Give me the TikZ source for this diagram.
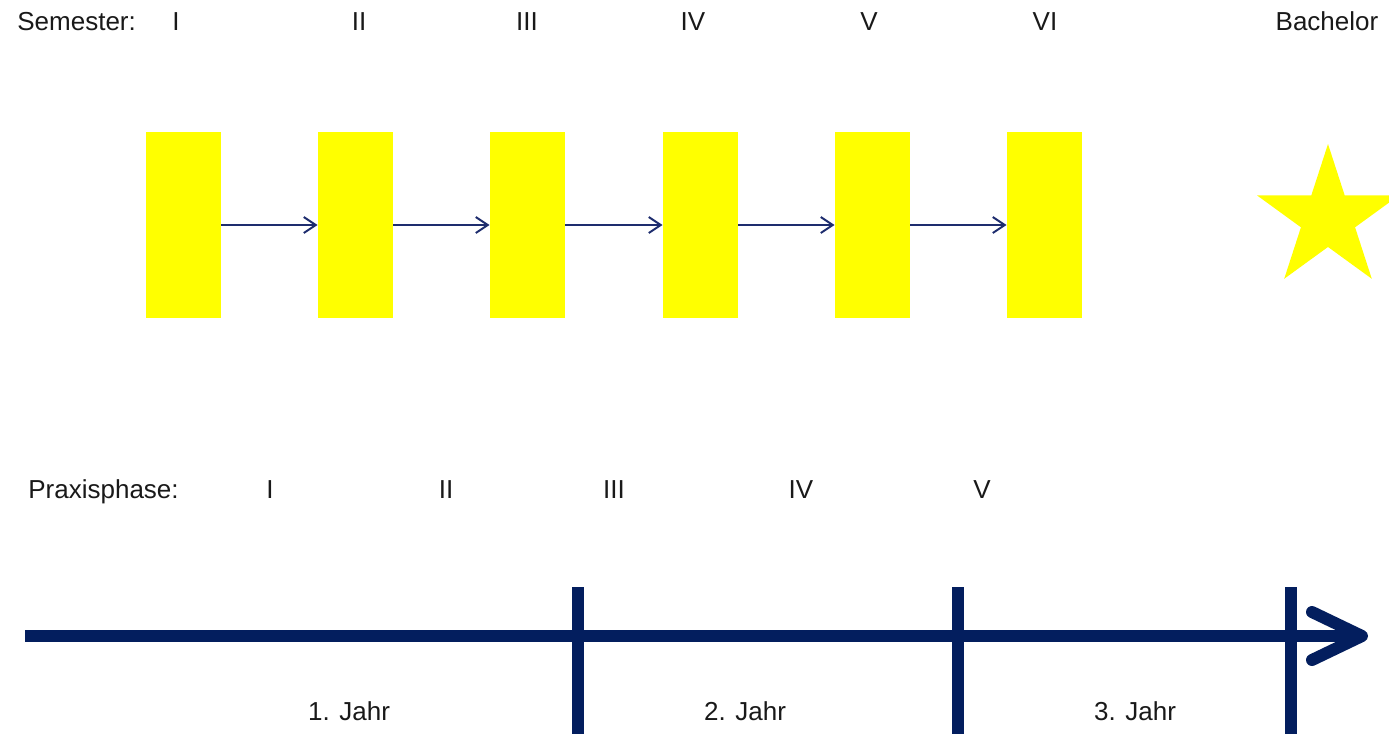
\documentclass[tikz,border=0pt]{standalone}
\usepackage{fontspec}
\setmainfont{Liberation Sans}
\usetikzlibrary{arrows.meta,shapes.geometric}
\definecolor{navy}{RGB}{3,30,94}
\definecolor{smallnavy}{RGB}{30,45,110}
\definecolor{txt}{RGB}{25,25,25}
\definecolor{sunyellow}{RGB}{255,255,0}
\tikzset{
  semblock/.style={rectangle,fill=sunyellow,draw=none,minimum width=37.5pt,minimum height=93pt,inner sep=0pt},
  smallarrow/.style={draw=smallnavy,line width=1pt,-{Straight Barb[length=6pt,width=8pt,line width=1pt]}},
  lbl/.style={text=txt,font=\fontsize{13pt}{15pt}\selectfont,inner sep=0pt,anchor=base},
  axis/.style={draw=navy,line width=6pt},
  tick/.style={draw=navy,line width=6pt},
}
\begin{document}
\begin{tikzpicture}[x=0.5pt,y=-0.5pt]
\useasboundingbox (0,0) rectangle (1389,734);
% top labels
\node[lbl,anchor=base west] (semlbl) at (17,30) {Semester:};
\node[lbl] (semI) at (176,30) {I};
\node[lbl] (semII) at (359,30) {II};
\node[lbl] (semIII) at (527,30) {III};
\node[lbl] (semIV) at (693,30) {IV};
\node[lbl] (semV) at (869,30) {V};
\node[lbl] (semVI) at (1045,30) {VI};
\node[lbl] (bach) at (1327,30) {Bachelor};
% blocks
\node[semblock] (s1) at (183.5,225) {};
\node[semblock] (s2) at (355.5,225) {};
\node[semblock] (s3) at (527.5,225) {};
\node[semblock] (s4) at (700.5,225) {};
\node[semblock] (s5) at (872.5,225) {};
\node[semblock] (s6) at (1044.5,225) {};
\draw[smallarrow] (s1.east) -- (s2.west);
\draw[smallarrow] (s2.east) -- (s3.west);
\draw[smallarrow] (s3.east) -- (s4.west);
\draw[smallarrow] (s4.east) -- (s5.west);
\draw[smallarrow] (s5.east) -- (s6.west);
% star
\node[star,star points=5,star point ratio=2.618,fill=sunyellow,draw=none,inner sep=0pt,minimum size=74.5pt] (bstar) at (1328,218.5) {};
% praxis labels
\node[lbl,anchor=base west] (praxlbl) at (28,498) {Praxisphase:};
\node[lbl] (pI) at (270,498) {I};
\node[lbl] (pII) at (446,498) {II};
\node[lbl] (pIII) at (614,498) {III};
\node[lbl] (pIV) at (801,498) {IV};
\node[lbl] (pV) at (982,498) {V};
% timeline
\coordinate (tstart) at (25,636);
\coordinate (tend) at (1360,636);
\coordinate (tip) at (1362,636);
\coordinate (barbA) at (1312,612);
\coordinate (barbB) at (1312,660);
\draw[axis] (tstart) -- (tend);
\draw[axis,line cap=round,line join=round] (barbA) -- (tip) -- (barbB);
\coordinate (t1top) at (578,587); \coordinate (t1bot) at (578,734);
\coordinate (t2top) at (958,587); \coordinate (t2bot) at (958,734);
\coordinate (t3top) at (1291,587); \coordinate (t3bot) at (1291,734);
\draw[tick] (t1top) -- (t1bot);
\draw[tick] (t2top) -- (t2bot);
\draw[tick] (t3top) -- (t3bot);
\node[lbl] (j1) at (349,720) {1. Jahr};
\node[lbl] (j2) at (745,720) {2. Jahr};
\node[lbl] (j3) at (1135,720) {3. Jahr};
\end{tikzpicture}
\end{document}
